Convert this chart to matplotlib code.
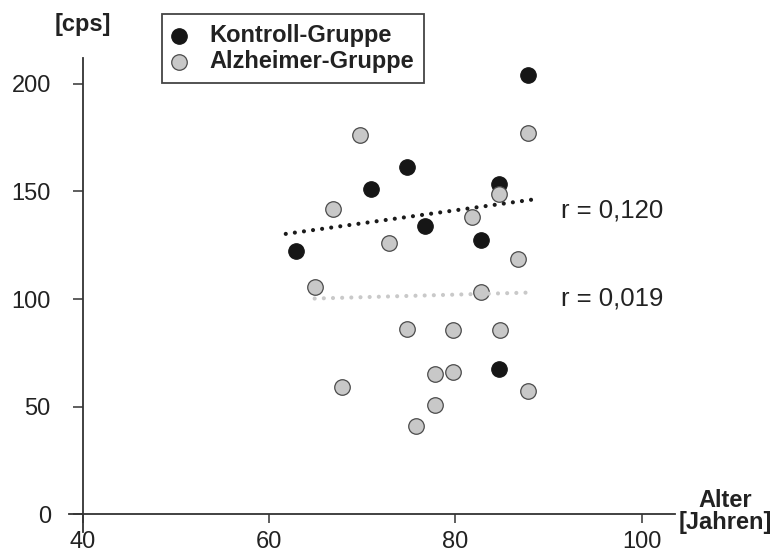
import numpy as np
import matplotlib
matplotlib.use("Agg")
import matplotlib.pyplot as plt

plt.rcParams['font.family'] = ['Liberation Sans', 'DejaVu Sans']

# Alter [Jahren] und Messwert [cps]
alter_kontroll = [62.9, 70.9, 74.8, 76.8, 82.8, 84.7, 84.7, 87.8]
cps_kontroll = [122.3, 151.1, 161.2, 133.9, 127.3, 153.3, 67.6, 204.2]

alter_alzheimer = [64.9, 66.9, 67.8, 69.8, 72.9, 74.8, 75.8, 77.8, 77.8, 79.8, 79.8,
                   81.8, 82.8, 84.7, 84.8, 86.7, 87.8, 87.8]
cps_alzheimer = [105.7, 141.9, 59.3, 176.0, 125.9, 86.1, 41.2, 65.3, 50.9, 85.6, 66.2,
                 138.2, 103.1, 148.6, 85.6, 118.6, 177.0, 57.4]

# x-range over which each regression line is drawn
fit_range_kontroll = [61.8, 88.5]
fit_range_alzheimer = [64.9, 87.7]

r_labels = ["r = 0,120", "r = 0,019"]
legend_labels = ["Kontroll-Gruppe", "Alzheimer-Gruppe"]
x_ticks = [40, 60, 80, 100]
y_ticks = [0, 50, 100, 150, 200]

fig = plt.figure(figsize=(7.72, 5.53), dpi=100)
ax = fig.add_axes([0, 0, 1, 1])
ax.set_xlim(31.12, 114.0)
ax.set_ylim(-17.97, 238.9)

axis_col = '#333333'
for side in ['top', 'right']:
    ax.spines[side].set_visible(False)
ax.spines['left'].set_position(('data', 40))
ax.spines['bottom'].set_position(('data', 0))
ax.spines['left'].set_bounds(-8.1, 211.8)
ax.spines['bottom'].set_bounds(38.5, 103.6)
for side in ['left', 'bottom']:
    ax.spines[side].set_color(axis_col)
    ax.spines[side].set_linewidth(1.3)

ax.set_xticks(x_ticks)
ax.set_yticks(y_ticks)
ax.set_xticklabels([str(t) for t in x_ticks])
ax.set_yticklabels([str(t) for t in y_ticks])
ax.tick_params(axis='x', direction='out', length=6.5, width=1.1, color=axis_col,
               pad=5.5, labelsize=17, labelcolor='#222222')
ax.tick_params(axis='y', direction='out', length=7, width=1.1, color=axis_col,
               pad=16, labelsize=17, labelcolor='#222222')

# scatter points
ax.scatter(alter_kontroll, cps_kontroll, s=125, c='#161616', edgecolors='#161616',
           linewidths=0.8, zorder=3, label=legend_labels[0])
ax.scatter(alter_alzheimer, cps_alzheimer, s=125, c='#c8c8c8', edgecolors='#4a4a4a',
           linewidths=0.9, zorder=4, label=legend_labels[1])

# linear regression lines (dotted)
for xs, ys, rng, col in [(alter_kontroll, cps_kontroll, fit_range_kontroll, '#1a1a1a'),
                         (alter_alzheimer, cps_alzheimer, fit_range_alzheimer, '#c9c9c9')]:
    k, d = np.polyfit(xs, ys, 1)
    xr = np.array(rng)
    ax.plot(xr, k * xr + d, color=col, lw=3.0, linestyle=(0, (0.001, 2.2)),
            dash_capstyle='round', zorder=5)

ax.text(91.3, 141.3, r_labels[0], fontsize=18.5, color='#222222', ha='left', va='center')
ax.text(91.3, 100.3, r_labels[1], fontsize=18.5, color='#222222', ha='left', va='center')

# axis titles
ax.text(40, 227.3, "[cps]", fontsize=17, fontweight='bold', color='#222222',
        ha='center', va='center')
ax.text(108.95, 6.6, "Alter", fontsize=17, fontweight='bold', color='#222222',
        ha='center', va='center', clip_on=False)
ax.text(108.95, -4.0, "[Jahren]", fontsize=17, fontweight='bold', color='#222222',
        ha='center', va='center', clip_on=False)

leg = ax.legend(loc='upper left', bbox_to_anchor=(161.7 / 772, 1 - 14 / 553),
                bbox_transform=fig.transFigure, borderaxespad=0, frameon=True,
                fancybox=False, edgecolor='#444444', framealpha=1,
                prop={'size': 17, 'weight': 'bold'}, borderpad=0.42,
                handlelength=0.63, handletextpad=0.97, labelspacing=0.13,
                scatterpoints=1)
leg.get_frame().set_linewidth(1.3)
for t in leg.get_texts():
    t.set_color('#222222')

fig.savefig("out.png", dpi=100)
